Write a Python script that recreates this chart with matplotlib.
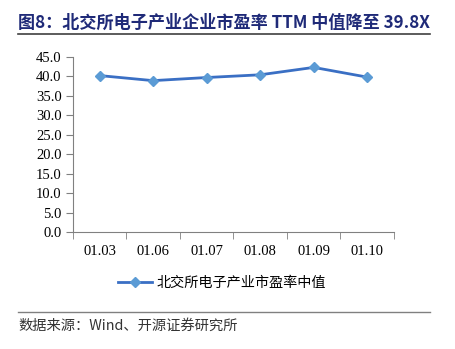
import matplotlib.pyplot as plt
from matplotlib.lines import Line2D

# 北交所电子产业企业市盈率 TTM 中值
months = ["01.03", "01.06", "01.07", "01.08", "01.09", "01.10"]
pe_median = [40.2, 38.9, 39.7, 40.4, 42.3, 39.8]
y_ticks = [0, 5, 10, 15, 20, 25, 30, 35, 40, 45]

cjk = ["Noto Sans CJK SC", "DejaVu Sans"]
serif = ["Liberation Serif", "Noto Sans CJK SC"]
navy = "#1f2a78"

fig = plt.figure(figsize=(4.55, 3.49), dpi=100)
ax = fig.add_axes([0.160, 0.335, 0.706, 0.502])

x = list(range(len(months)))
ax.plot(x, pe_median, color="#3a6fc4", lw=2, marker="D", ms=5,
        mfc="#5b9bd5", mec="#5b9bd5")

ax.set_xlim(-0.5, len(months) - 0.5)
ax.set_ylim(0, 45)
ax.set_yticks(y_ticks)
ax.set_yticklabels([f"{v:.1f}" for v in y_ticks], family=serif, fontsize=10.5)
ax.set_xticks(x)
ax.set_xticklabels(months, family=serif, fontsize=10.5)
ax.tick_params(axis="x", length=0, pad=9)
ax.set_xticks([i + 0.5 for i in range(-1, len(months))], minor=True)
ax.tick_params(axis="x", which="minor", length=5, color="#808080")
ax.tick_params(axis="y", length=5, color="#808080", pad=3)
for s in ("top", "right"):
    ax.spines[s].set_visible(False)
for s in ("left", "bottom"):
    ax.spines[s].set_color("#808080")

handle = Line2D([], [], color="#3a6fc4", lw=2, marker="D", ms=5,
                mfc="#5b9bd5", mec="#5b9bd5")
fig.legend([handle], ["北交所电子产业市盈率中值"], loc="center",
           bbox_to_anchor=(0.489, 0.188), frameon=False,
           prop={"family": cjk, "size": 10.2}, handlelength=2.35,
           handletextpad=0.37)

# title and rules
fig.text(0.04, 0.935, "图8：北交所电子产业企业市盈率 TTM 中值降至 39.8X",
         family=["Noto Sans CJK SC", "DejaVu Sans"], fontweight="bold",
         fontsize=12.3, color=navy, va="center")
fig.add_artist(Line2D([0.04, 0.945], [0.903, 0.903], color="#404040", lw=1.2))
fig.add_artist(Line2D([0.04, 0.945], [0.106, 0.106], color="#808080", lw=1))
fig.text(0.04, 0.066, "数据来源：Wind、开源证券研究所",
         family=["Noto Sans CJK SC", "Liberation Serif"], fontsize=10.3,
         color="#333333", va="center")

fig.savefig("out.png", dpi=100)
